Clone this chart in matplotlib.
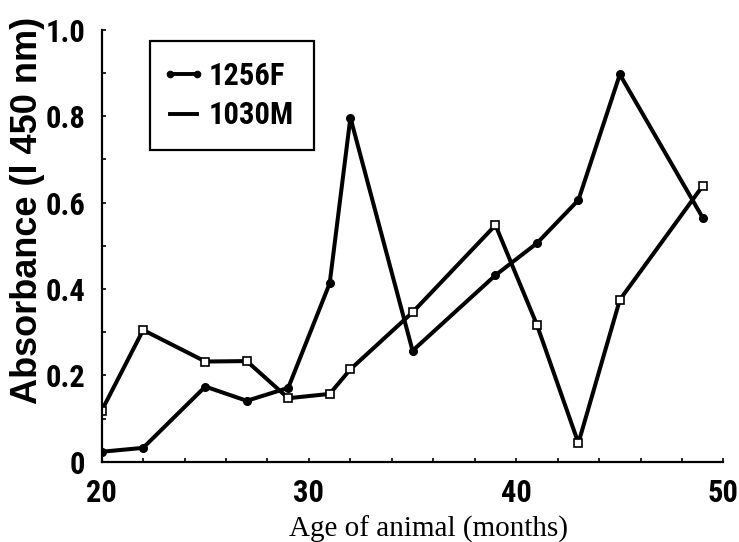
import matplotlib
matplotlib.use("Agg")
import matplotlib.pyplot as plt
from matplotlib.lines import Line2D
from matplotlib.legend_handler import HandlerLine2D
from matplotlib.ticker import MultipleLocator, FixedLocator

age = [20, 22, 25, 27, 29, 31, 32, 35, 39, 41, 43, 45, 49]
f1256 = [0.023, 0.032, 0.174, 0.141, 0.171, 0.413, 0.797, 0.257, 0.432, 0.506, 0.606, 0.897, 0.565]
m1030 = [0.118, 0.305, 0.232, 0.233, 0.147, 0.157, 0.214, 0.346, 0.548, 0.317, 0.043, 0.375, 0.639]

y_ticks = [0, 0.2, 0.4, 0.6, 0.8, 1.0]
y_labels = ["0", "0.2", "0.4", "0.6", "0.8", "1.0"]
x_ticks = [20, 30, 40, 50]

narrow = ["Liberation Sans Narrow", "Roboto Condensed", "Liberation Sans"]

fig = plt.figure(figsize=(7.39, 5.42), dpi=100)
ax = fig.add_axes([0.1376, 0.1482, 0.8414, 0.7965])

ax.plot(age, f1256, color="black", lw=2.9, marker="o", ms=5.5, mfc="black", mec="black")
ax.plot(age, m1030, color="black", lw=2.9, marker="s", ms=6, mfc="white", mec="black", mew=1.2)

ax.set_xlim(20, 50)
ax.set_ylim(0, 1.0)
ax.spines["top"].set_visible(False)
ax.spines["right"].set_visible(False)
for s in ("left", "bottom"):
    ax.spines[s].set_linewidth(1.6)

ax.xaxis.set_major_locator(FixedLocator(x_ticks))
ax.xaxis.set_minor_locator(MultipleLocator(2))
ax.set_yticks(y_ticks)
ax.set_yticklabels(y_labels)
ax.yaxis.set_minor_locator(MultipleLocator(0.1))
ax.tick_params(which="both", direction="in", length=3, width=1.2)
ax.tick_params(axis="x", pad=12)
ax.tick_params(axis="y", pad=12)
for lab in ax.get_xticklabels() + ax.get_yticklabels():
    lab.set_fontfamily(narrow)
    lab.set_fontsize(22)
    lab.set_fontweight("bold")

fig.text(429 / 739, 5 / 542, "Age of animal (months)", family="Liberation Serif",
         fontsize=21, ha="center", va="baseline")
fig.text(28 / 739, 1 - 210 / 542, "Absorbance (l 450 nm)", family="Liberation Sans",
         fontsize=26, fontweight="bold", rotation=90, ha="center", va="center")

handles = [
    Line2D([], [], color="black", lw=2.8, marker="o", ms=4.5),
    Line2D([], [], color="black", lw=2.8),
]
leg = ax.legend(handles, ["1256F", "1030M"], loc="upper left", bbox_to_anchor=(0.0777, 0.9745),
                borderaxespad=0, numpoints=2, handlelength=0.88, handletextpad=0.4,
                labelspacing=0.31, borderpad=0.65, fancybox=False, framealpha=1,
                edgecolor="black", prop={"family": narrow, "size": 22, "weight": "bold"},
                handler_map={h: HandlerLine2D(marker_pad=0) for h in handles})
leg.get_frame().set_linewidth(1.6)

fig.savefig("out.png", dpi=100)
